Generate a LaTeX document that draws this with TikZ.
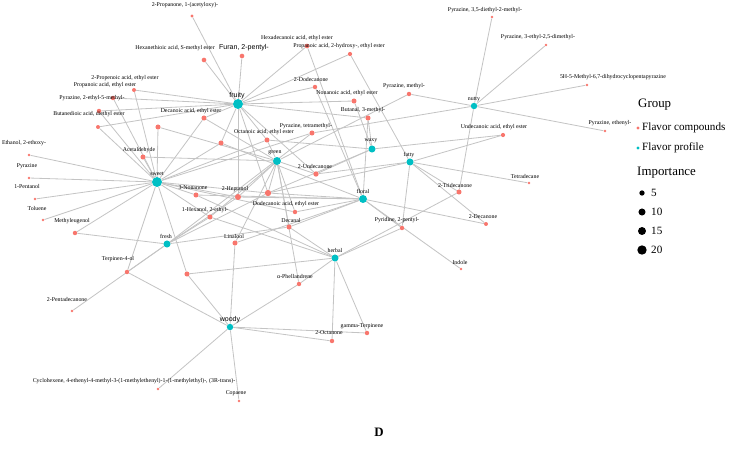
\documentclass[tikz,border=0pt]{standalone}
\usepackage{fontspec}
\setmainfont{Liberation Serif}
\newfontfamily\arialfont{Liberation Sans}
\usetikzlibrary{backgrounds}
\definecolor{profilecol}{HTML}{00BFC4}
\definecolor{compoundcol}{HTML}{F8766D}
\definecolor{edgecol}{HTML}{C4C4C4}

\begin{document}
\begin{tikzpicture}[
    x=0.03cm, y=-0.03cm,
    every node/.style={font=\fontsize{5}{6}\selectfont},
    hub/.style={circle, fill=profilecol, inner sep=0pt, minimum size=#1},
    cpd/.style={circle, fill=compoundcol, inner sep=0pt, minimum size=#1},
    lab/.style={inner sep=0pt},
    sanslab/.style={inner sep=0pt, font=\arialfont\fontsize{6}{7}\selectfont},
    link/.style={draw=edgecol, line width=0.7pt},
    keytext/.style={anchor=west, inner sep=0pt, font=\fontsize{9.5}{11}\selectfont},
    keytitle/.style={anchor=west, inner sep=0pt, font=\fontsize{11}{13}\selectfont}
]
\useasboundingbox (0,0) rectangle (729,467);

% Flavor profiles
\foreach \nm/\x/\y/\sz in {fruity/238/104/8.5pt, sweet/157/182/8.5pt,
    green/277/161/6.8pt, waxy/372/149/6pt, fatty/410/162/6pt,
    floral/363/199/6.8pt, nutty/474/106/5.5pt, herbal/335/258/6pt,
    fresh/167/244/6pt, woody/230/327/5.5pt}
    \node[hub=\sz] (\nm) at (\x,\y) {};
\foreach \nm/\x/\y in {sweet/157/174, green/275/153, waxy/371/141,
    fatty/409/155, floral/363/191, nutty/474/99, herbal/335/250, fresh/166/236}
    \node[lab] (\nm-l) at (\x,\y) {\nm};
\node[sanslab] (fruity-l) at (237,96) {fruity};
\node[sanslab] (woody-l) at (230,320) {woody};

% Flavor compounds
\foreach \nm/\x/\y/\sz/\lx/\ly/\txt in {
    propanone/192/16/2.6/185/5/{2-Propanone, 1-(acetyloxy)-},
    hexanethioic/204/60/4/175/48/{Hexanethioic acid, S-methyl ester},
    hexadecanoic/307/46/4/297/38/{Hexadecanoic acid, ethyl ester},
    lactate/350/54/3.6/339/46/{Propanoic acid, 2-hydroxy-, ethyl ester},
    dodecanone/315/87/3.8/311/79/{2-Dodecanone},
    nonanoate/354/101/4.3/347/93/{Nonanoic acid, ethyl ester},
    pzmethyl/409/94/3.8/404/86/{Pyrazine, methyl-},
    butanal/368/118/4.3/363/110/{Butanal, 3-methyl-},
    pztetra/312/133/4.3/306/126/{Pyrazine, tetramethyl-},
    octanoate/267/140/4.3/264/132/{Octanoic acid, ethyl ester},
    decanoate/204/118/4.3/191/111/{Decanoic acid, ethyl ester},
    propenoate/134/90/3.4/125/78/{2-Propenoic acid, ethyl ester},
    propanoate/113/98/3.8/105/85/{Propanoic acid, ethyl ester},
    pzethylmethyl/99/111/3.8/92/98/{Pyrazine, 2-ethyl-5-methyl-},
    butanedioate/98/127/3.4/89/114/{Butanedioic acid, diethyl ester},
    ethoxyethanol/29/155/2.4/24/143/{Ethanol, 2-ethoxy-},
    acetaldehyde/143/157/4.3/139/150/{Acetaldehyde},
    pyrazine/29/178/2.4/27/166/{Pyrazine},
    pentanol/35/199/2.4/27/186/{1-Pentanol},
    toluene/43/220/2.4/37/208/{Toluene},
    methyleugenol/75/233/3.8/72/221/{Methyleugenol},
    nonanone/196/195/4.3/193/188/{3-Nonanone},
    heptanol/238/197/5.1/235/189/{2-Heptanol},
    hexanol/210/217/4.3/205/210/{1-Hexanol, 2-ethyl-},
    linalool/235/243/4.3/234/236/{Linalool},
    terpinenol/127/272/3.8/118/259/{Terpinen-4-ol},
    pentadecanone/72/311/2.4/67/299/{2-Pentadecanone},
    undecanone/316/174/4.6/315/166/{2-Undecanone},
    dodecanoate/295/212/3.8/286/204/{Dodecanoic acid, ethyl ester},
    decanal/289/227/4.3/291/220/{Decanal},
    pyridine/402/228/3.8/397/220/{Pyridine, 2-pentyl-},
    phellandrene/299/284/3.8/295/276/{α-Phellandrene},
    terpinene/367/333/3.8/362/326/{gamma-Terpinene},
    octanone/332/341/3.8/329/333/{2-Octanone},
    cyclohexene/158/389/2.4/134/381/{Cyclohexene, 4-ethenyl-4-methyl-3-(1-methylethenyl)-1-(1-methylethyl)-, (3R-trans)-},
    copaene/239/401/2.4/236/393/{Copaene},
    pzdiethyl/492/17/2.4/485/10/{Pyrazine, 3,5-diethyl-2-methyl-},
    pzethyldimethyl/546/45/2.4/538/37/{Pyrazine, 3-ethyl-2,5-dimethyl-},
    dihydro/587/85/2.4/613/77/{5H-5-Methyl-6,7-dihydrocyclopentapyrazine},
    pzethenyl/605/131/2.4/610/123/{Pyrazine, ethenyl-},
    undecanoate/503/135/3.6/494/127/{Undecanoic acid, ethyl ester},
    tetradecane/529/183/2.4/525/176/{Tetradecane},
    tridecanone/459/192/4.3/455/185/{2-Tridecanone},
    decanone/486/224/3.4/483/217/{2-Decanone},
    indole/461/269/2.4/460/262/{Indole}}
{
    \node[cpd=\sz pt] (\nm) at (\x,\y) {};
    \node[lab] (\nm-l) at (\lx,\ly) {\txt};
}
\node[cpd=4pt] (furan) at (242,56) {};
\node[sanslab] (furan-l) at (244,48) {Furan, 2-pentyl-};
% compounds without a label
\foreach \nm/\x/\y/\sz in {ua/221/143/4.3, ub/158/127/4.3, uc/187/274/4.3, ud/268/193/5.4}
    \node[cpd=\sz pt] (\nm) at (\x,\y) {};

% Edges
\begin{pgfonlayer}{background}
\foreach \a/\b in {propanone/fruity, hexanethioic/fruity, furan/fruity,
    hexadecanoic/fruity, hexadecanoic/floral, lactate/fruity, lactate/fatty,
    dodecanone/fruity, dodecanone/floral, nonanoate/fruity, nonanoate/waxy,
    pzmethyl/nutty, pzmethyl/green, butanal/fruity, butanal/waxy, butanal/floral,
    pztetra/nutty, pztetra/sweet, pztetra/fresh, octanoate/fruity, octanoate/waxy,
    octanoate/sweet, octanoate/green, decanoate/fruity, decanoate/sweet,
    decanoate/green, ua/fruity, ua/floral, ua/sweet, propenoate/fruity,
    propenoate/sweet, propanoate/fruity, propanoate/sweet, pzethylmethyl/fruity,
    pzethylmethyl/sweet, butanedioate/fruity, butanedioate/sweet, ub/sweet,
    ub/green, ethoxyethanol/sweet, acetaldehyde/sweet, acetaldehyde/green,
    pyrazine/sweet, pentanol/sweet, toluene/sweet, methyleugenol/sweet,
    methyleugenol/fresh, nonanone/sweet, nonanone/floral, nonanone/herbal,
    heptanol/sweet, heptanol/green, heptanol/floral, heptanol/fresh,
    heptanol/fruity, hexanol/sweet, hexanol/green, hexanol/fresh, hexanol/herbal,
    linalool/floral, linalool/woody, linalool/green, terpinenol/sweet,
    terpinenol/fresh, terpinenol/woody, uc/sweet, uc/woody, uc/herbal,
    pentadecanone/fresh, undecanone/green, undecanone/fatty, undecanone/waxy,
    undecanone/fruity, ud/green, ud/waxy, ud/floral, ud/fatty, ud/fresh,
    ud/sweet, ud/fruity, dodecanoate/sweet, dodecanoate/floral,
    dodecanoate/green, decanal/fresh, decanal/herbal, decanal/floral,
    decanal/green, pyridine/fatty, pyridine/floral, pyridine/herbal,
    phellandrene/green, phellandrene/herbal, phellandrene/woody,
    terpinene/woody, terpinene/herbal, octanone/woody, octanone/herbal,
    cyclohexene/woody, copaene/woody, pzdiethyl/nutty, pzethyldimethyl/nutty,
    dihydro/nutty, pzethenyl/nutty, undecanoate/waxy, undecanoate/fatty,
    tetradecane/fatty, tridecanone/fatty, tridecanone/nutty, tridecanone/herbal,
    decanone/fatty, decanone/floral, indole/floral}
    \draw[link] (\a) -- (\b);
\end{pgfonlayer}

% Legend
\node[keytitle] (key-group) at (638,105) {Group};
\node[cpd=2.6pt] (key-cpd) at (638,128) {};
\node[keytext] (key-cpd-t) at (642,128) {Flavor compounds};
\node[hub=2.6pt] (key-hub) at (638,148) {};
\node[keytext] (key-hub-t) at (642,148) {Flavor profile};
\node[keytitle] (key-imp) at (637,173) {Importance};
\foreach \v/\y/\sz in {5/193/4.5pt, 10/212/6pt, 15/231/6.8pt, 20/250/8pt}
{
    \node[circle, fill=black, inner sep=0pt, minimum size=\sz] (key-\v) at (642,\y) {};
    \node[keytext] (key-\v-t) at (651,\y) {\v};
}

\node[font=\bfseries\fontsize{11}{13}\selectfont] (panel) at (379,432) {D};

\end{tikzpicture}
\end{document}
